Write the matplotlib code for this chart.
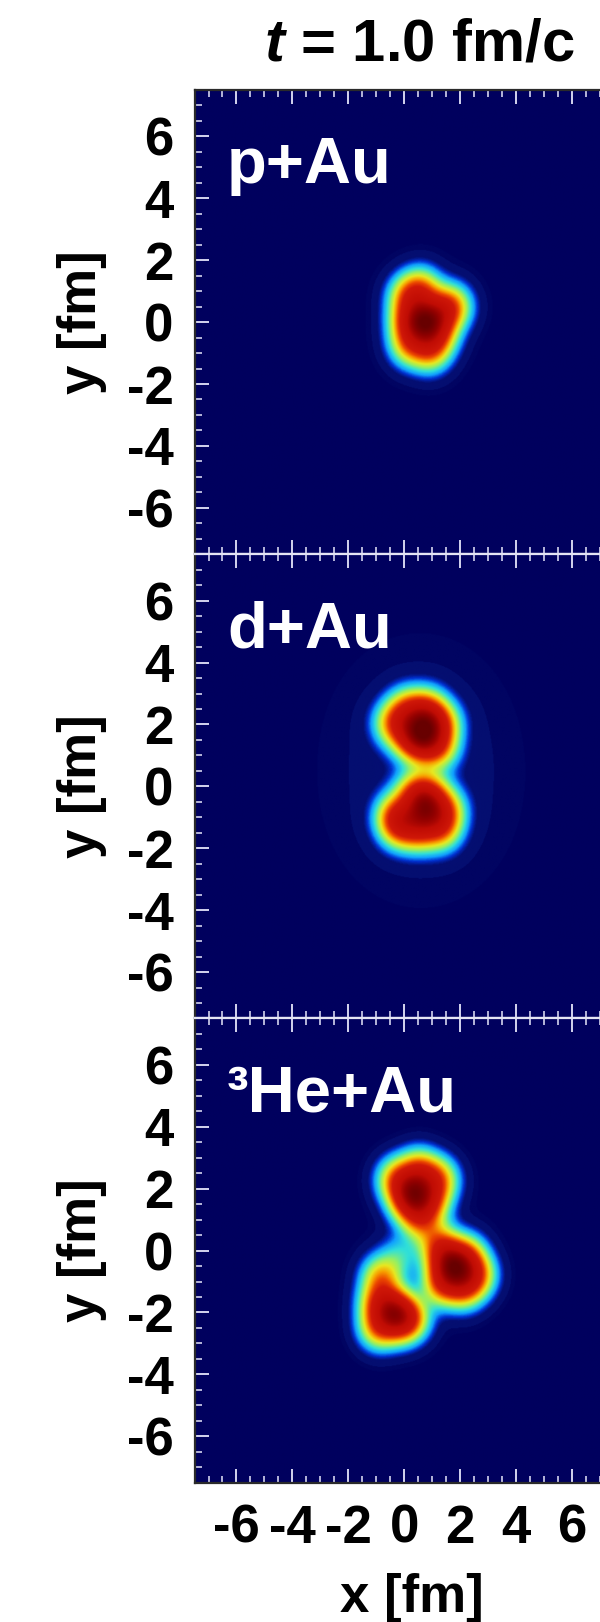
import numpy as np
import matplotlib.pyplot as plt
from matplotlib.colors import LinearSegmentedColormap

plt.rcParams['font.family'] = ['Liberation Sans', 'DejaVu Sans']
plt.rcParams['font.weight'] = 'bold'
plt.rcParams['axes.unicode_minus'] = False
plt.rcParams['mathtext.fontset'] = 'custom'
plt.rcParams['mathtext.it'] = 'Liberation Sans:italic:bold'
plt.rcParams['mathtext.rm'] = 'Liberation Sans:bold'

# hot spot centres [fm] and weights for each projectile
pAu_x = [0.10, 0.10, 0.15, 0.60, 0.70, 0.90, 1.20, 1.70, 1.30, 0.68]
pAu_y = [0.80, 0.00, -0.75, 1.05, 0.00, -0.95, -0.40, 0.50, 0.30, 0.03]
pAu_w = [1.00, 1.00, 1.00, 1.00, 1.00, 1.00, 1.00, 1.00, 0.90, 1.30]

dAu_x = [-0.40, 0.10, 0.80, 1.30, 1.20, 0.60, 0.20, 0.68,
         -0.35, 0.35, 0.90, 1.45, 1.30, 0.50, -0.20, 0.68]
dAu_y = [2.00, 2.45, 2.45, 2.00, 1.25, 1.35, 1.55, 1.88,
         -0.95, -0.25, -0.30, -0.80, -1.40, -1.45, -1.35, -0.81]
dAu_w = [1.00, 1.00, 1.00, 1.00, 1.00, 1.00, 1.00, 1.40,
         1.00, 1.00, 1.00, 1.00, 1.00, 1.00, 1.00, 1.40]

heAu_x = [-0.30, 0.50, 1.20, 0.10, 0.90, 0.55, 0.33,
          1.20, 1.50, 2.20, 2.55, 2.10, 1.30, 1.75,
          -0.85, -0.95, -0.95, -0.20, 0.20, -0.39, -0.20]
heAu_y = [2.30, 2.60, 2.30, 1.60, 1.60, 1.00, 1.90,
          0.20, -0.30, -0.20, -0.80, -1.20, -1.10, -0.58,
          -0.85, -1.70, -2.50, -2.30, -2.20, -1.88, -0.20]
heAu_w = [1.00, 1.00, 1.00, 1.00, 1.00, 0.90, 1.40,
          0.90, 1.00, 1.00, 1.00, 1.00, 1.00, 1.40,
          0.90, 1.00, 1.00, 1.00, 0.90, 1.30, 0.35]

systems = ['p+Au', 'd+Au', '³He+Au']
halo_frac = [0.008, 0.03, 0.008]

ticks = [-6, -4, -2, 0, 2, 4, 6]

# jet-like palette with a dark navy floor and two faint halo steps
cmap = LinearSegmentedColormap.from_list('glasma', [
    (0.000, '#00005e'), (0.004, '#00005e'), (0.0045, '#010462'),
    (0.012, '#010462'), (0.0125, '#040e70'), (0.040, '#040e72'),
    (0.070, '#0030d0'), (0.110, '#10a0ff'), (0.170, '#30e0d8'),
    (0.250, '#98f060'), (0.330, '#e8e820'), (0.410, '#f8a000'),
    (0.490, '#ec4800'), (0.580, '#d01808'), (0.800, '#c00c04'),
    (0.920, '#900000'), (1.000, '#680000')])

grid = np.linspace(-7.5, 7.5, 601)
X, Y = np.meshgrid(grid, grid)


def energy_density(xs, ys, ws, halo, sigma=0.47, halo_sigma=2.2, sat=0.85):
    core = np.zeros_like(X)
    broad = np.zeros_like(X)
    for x0, y0, w in zip(xs, ys, ws):
        r2 = (X - x0) ** 2 + (Y - y0) ** 2
        core += w * np.exp(-r2 / (2 * sigma ** 2))
        broad += np.exp(-r2 / (2 * halo_sigma ** 2))
    core = np.tanh(core / (sat * core.max())) / np.tanh(1 / sat)
    return core + halo * broad / broad.max()


fields = [energy_density(pAu_x, pAu_y, pAu_w, halo_frac[0]),
          energy_density(dAu_x, dAu_y, dAu_w, halo_frac[1]),
          energy_density(heAu_x, heAu_y, heAu_w, halo_frac[2])]

fig = plt.figure(figsize=(6, 16.22), dpi=100)

left, width, height = 0.3242, 0.6992, 0.2862
bottoms = [0.6583, 0.3721, 0.0859]
dark, light = '#2a2a2a', '#e4e4f4'

for i, (name, rho) in enumerate(zip(systems, fields)):
    ax = fig.add_axes([left, bottoms[i], width, height])
    ax.imshow(rho, extent=(-7.5, 7.5, -7.5, 7.5), origin='lower',
              cmap=cmap, vmin=0, vmax=1, aspect='auto',
              interpolation='bilinear')
    ax.set_xlim(-7.5, 7.5)
    ax.set_ylim(-7.5, 7.5)
    ax.set_xticks(ticks)
    ax.set_yticks(ticks)
    ax.set_xticks(np.arange(-7.5, 7.6, 0.5), minor=True)
    ax.set_yticks(np.arange(-7.5, 7.6, 0.5), minor=True)
    ax.tick_params(which='both', direction='in', top=True, right=True,
                   color='#d4d4ee', labelsize=38, pad=15)
    ax.tick_params(which='major', length=10, width=1.4)
    ax.tick_params(which='minor', length=5, width=1.2)
    if i < 2:
        ax.set_xticklabels([])
    ax.spines['left'].set_color(dark)
    ax.spines['right'].set_color(dark)
    ax.spines['top'].set_color(dark if i == 0 else light)
    ax.spines['bottom'].set_color(dark if i == 2 else light)
    for sp in ax.spines.values():
        sp.set_linewidth(1.6)
    ax.text(0.0775, 0.80, name, transform=ax.transAxes, color='white',
            fontsize=47, fontweight='bold', ha='left', va='baseline')
    fig.text(82 / 600, bottoms[i] + height / 2, 'y [fm]', rotation=90,
             ha='center', va='center', fontsize=38)

fig.text(419 / 600, 1 - 60 / 1622, r'$t$ = 1.0 fm/c', ha='center',
         va='baseline', fontsize=43)
fig.text(412 / 600, 1 - 1598 / 1622, 'x [fm]', ha='center', va='center',
         fontsize=38)

fig.savefig('out.png', dpi=100)
